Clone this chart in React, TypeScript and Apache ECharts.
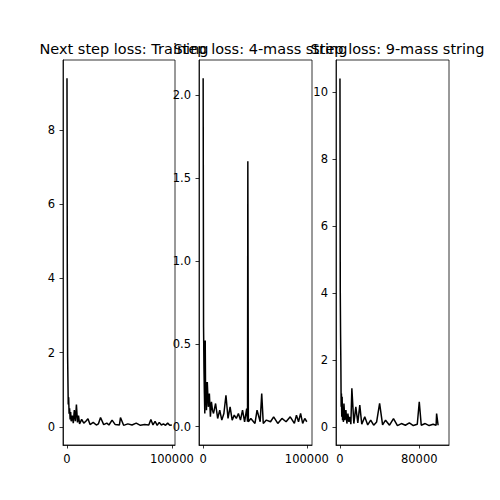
import React, { useEffect, useRef } from "react";
import * as echarts from "echarts";

const titles = ["Next step loss: Training", "Step loss: 4-mass string", "Step loss: 9-mass string"];

const steps1 = [0, 300, 600, 900, 1200, 1600, 2000, 2500, 3000, 3500, 4000, 5000, 6000, 7000, 8000, 9000, 10000, 11000, 12000, 14000, 16000, 18000, 20000, 22000, 25000, 28000, 30000, 32000, 35000, 38000, 40000, 43000, 46000, 50000, 51000, 54000, 58000, 62000, 66000, 70000, 74000, 78000, 80000, 82000, 84000, 86000, 88000, 90000, 92000, 94000, 96000, 98000, 100000];
const loss1 = [9.4, 4.2, 1.9, 1.25, 0.6, 0.8, 0.35, 0.5, 0.2, 0.4, 0.15, 0.3, 0.1, 0.45, 0.15, 0.6, 0.12, 0.3, 0.08, 0.2, 0.1, 0.15, 0.22, 0.06, 0.12, 0.05, 0.08, 0.25, 0.06, 0.1, 0.05, 0.18, 0.06, 0.05, 0.25, 0.04, 0.08, 0.05, 0.1, 0.04, 0.06, 0.05, 0.2, 0.05, 0.15, 0.04, 0.12, 0.05, 0.08, 0.04, 0.1, 0.04, 0.05];

const steps2 = [0, 400, 800, 1200, 1600, 2000, 2400, 2800, 3200, 4000, 5000, 6000, 7000, 8000, 9000, 10000, 12000, 14000, 16000, 18000, 20000, 22000, 24000, 26000, 28000, 30000, 32000, 34000, 36000, 38000, 40000, 42000, 42800, 43100, 43300, 43600, 46000, 50000, 52000, 55000, 56500, 58000, 61000, 65000, 68000, 72000, 76000, 80000, 84000, 88000, 90000, 92000, 94000, 96000, 98000, 100000];
const loss2 = [2.1, 0.6, 0.35, 0.2, 0.08, 0.52, 0.15, 0.27, 0.1, 0.27, 0.12, 0.2, 0.06, 0.15, 0.1, 0.08, 0.14, 0.05, 0.1, 0.04, 0.08, 0.19, 0.05, 0.12, 0.04, 0.07, 0.05, 0.08, 0.04, 0.1, 0.03, 0.11, 0.03, 1.6, 1.6, 0.03, 0.05, 0.02, 0.1, 0.03, 0.2, 0.02, 0.04, 0.03, 0.06, 0.02, 0.05, 0.03, 0.06, 0.02, 0.07, 0.03, 0.08, 0.02, 0.05, 0.03];

const steps3 = [0, 300, 600, 900, 1200, 1500, 1800, 2200, 2600, 3000, 3500, 4000, 5000, 6000, 7000, 8000, 9000, 10000, 11000, 12000, 14000, 16000, 18000, 20000, 22000, 25000, 28000, 31000, 34000, 37000, 40000, 43000, 46000, 50000, 54000, 58000, 62000, 66000, 70000, 74000, 78000, 80000, 82000, 86000, 90000, 94000, 97000, 97500, 99000];
const loss3 = [10.4, 4.1, 2.8, 1.9, 0.6, 1.0, 0.3, 0.9, 0.2, 0.6, 0.15, 0.7, 0.2, 0.5, 0.1, 0.4, 0.15, 0.3, 0.08, 1.15, 0.1, 0.6, 0.12, 0.65, 0.08, 0.3, 0.06, 0.2, 0.05, 0.15, 0.7, 0.06, 0.2, 0.05, 0.25, 0.04, 0.1, 0.05, 0.12, 0.04, 0.08, 0.75, 0.05, 0.1, 0.04, 0.08, 0.05, 0.4, 0.05];

const yMin = [-0.49, -0.11, -0.54];
const yMax = [9.89, 2.21, 10.95];
const yTicks = [[0, 2, 4, 6, 8], [0, 0.5, 1.0, 1.5, 2.0], [0, 2, 4, 6, 8, 10]];
const xMin = [-3800, -4000, -4000];
const xMax = [103000, 105000, 110000];
const xTicks = [[0, 100000], [0, 100000], [0, 80000]];
const lefts = [63, 199, 336];
const widths = [112, 113, 113];

export default function App() {
  const ref = useRef<HTMLDivElement>(null);
  useEffect(() => {
    document.body.style.margin = "0";
    const chart = echarts.init(ref.current!, null, { renderer: "svg" });
    const data = [
      steps1.map((s, i) => [s, loss1[i]]),
      steps2.map((s, i) => [s, loss2[i]]),
      steps3.map((s, i) => [s, loss3[i]]),
    ];
    const font = "DejaVu Sans";
    const axisCommon = {
      axisLine: { show: true, onZero: false, lineStyle: { color: "#000", width: 0.8 } },
      splitLine: { show: false },
      axisLabel: { color: "#000", fontSize: 11.5, fontFamily: font },
      axisTick: { show: true, length: 3.5, lineStyle: { color: "#000", width: 0.8 } },
    };
    chart.setOption({
      animation: false,
      backgroundColor: "#fff",
      title: titles.map((t, i) => ({
        text: t,
        left: lefts[i] + widths[i] / 2,
        textAlign: "center",
        top: 36,
        textStyle: { fontFamily: font, fontSize: 14.5, fontWeight: "normal", color: "#000" },
      })),
      grid: [0, 1, 2].map((i) => ({ left: lefts[i], width: widths[i], top: 60, height: 385, show: true, borderColor: "#000", borderWidth: 0.8 })),
      xAxis: [0, 1, 2].map((i) => ({
        type: "value", gridIndex: i, min: xMin[i], max: xMax[i],
        ...axisCommon,
        axisLabel: { ...axisCommon.axisLabel, customValues: xTicks[i], formatter: (v: number) => String(v) },
        axisTick: { ...axisCommon.axisTick, customValues: xTicks[i] },
      })),
      yAxis: [0, 1, 2].map((i) => ({
        type: "value", gridIndex: i, min: yMin[i], max: yMax[i],
        ...axisCommon,
        axisLabel: { ...axisCommon.axisLabel, customValues: yTicks[i], formatter: (v: number) => (i === 1 ? v.toFixed(1) : String(v)) },
        axisTick: { ...axisCommon.axisTick, customValues: yTicks[i] },
      })),
      series: [0, 1, 2].map((i) => ({
        type: "line", xAxisIndex: i, yAxisIndex: i, data: data[i], showSymbol: false,
        lineStyle: { color: "#000", width: 1.5 },
      })),
    });
    return () => chart.dispose();
  }, []);
  return <div ref={ref} style={{ width: 500, height: 500 }} />;
}
